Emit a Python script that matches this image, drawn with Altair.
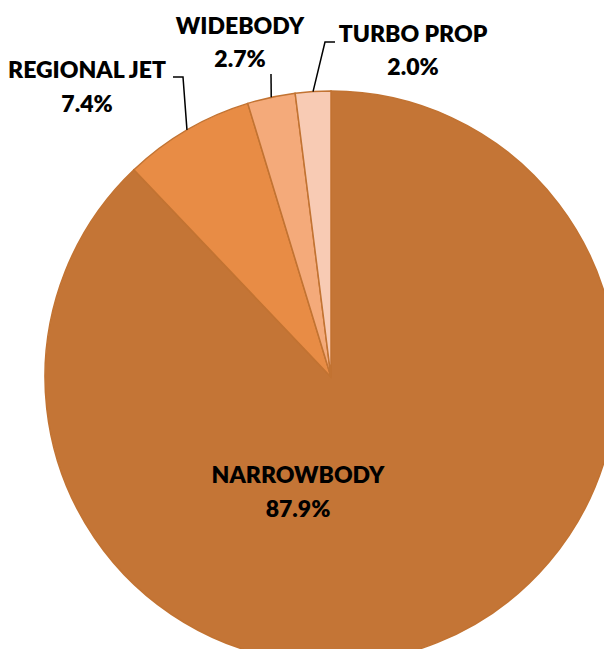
import math
import altair as alt
import pandas as pd

# ---- data ----
categories = ["NARROWBODY", "REGIONAL JET", "WIDEBODY", "TURBO PROP"]
shares = [87.9, 7.4, 2.7, 2.0]
pct_labels = ["87.9%", "7.4%", "2.7%", "2.0%"]
colors = ["#C47536", "#E88C45", "#F4AA7A", "#F8CBB4"]

# ---- layout (plot-area pixels) ----
CX, CY, R = 323, 369, 286
FONT = "Lato"
FS = 23
# label centre x, baseline of first line, baseline of second line
label_pos = {
    "NARROWBODY": (290, 475, 509),
    "REGIONAL JET": (79, 70, 104),
    "WIDEBODY": (232, 26, 59),
    "TURBO PROP": (405, 34, 67),
}
# leader elbows: list of points from label towards the pie
leader_elbow = {
    "REGIONAL JET": [(165, 69), (175, 69)],
    "WIDEBODY": [(263, 66)],
    "TURBO PROP": [(327, 34), (317, 34)],
}

pie_df = pd.DataFrame({
    "cat": categories,
    "value": shares,
    "idx": list(range(len(categories))),
})

# mid angles of slices for leader line anchors
total = sum(shares)
cum = 0.0
mid = {}
for c, v in zip(categories, shares):
    a = (cum + v / 2) / total * 2 * math.pi
    mid[c] = a
    cum += v

rows = []
for c, pts in leader_elbow.items():
    seq = 0
    for (px, py) in pts:
        rows.append({"cat": c, "seq": seq, "px": px, "py": py})
        seq += 1
    a = mid[c]
    rows.append({"cat": c, "seq": seq,
                 "px": CX + R * math.sin(a), "py": CY - R * math.cos(a)})
leader_df = pd.DataFrame(rows)

trows = []
for c, p in zip(categories, pct_labels):
    x, y1, y2 = label_pos[c]
    trows.append({"txt": c, "px": x, "py": y1})
    trows.append({"txt": p, "px": x, "py": y2})
text_df = pd.DataFrame(trows)

pie = alt.Chart(pie_df).mark_arc(
    radius=R, stroke="#C27332", strokeWidth=1.5
).encode(
    theta=alt.Theta("value:Q", stack=True),
    color=alt.Color("cat:N", scale=alt.Scale(domain=categories, range=colors), legend=None),
    order=alt.Order("idx:Q"),
    x=alt.value(CX),
    y=alt.value(CY),
)

leaders = alt.Chart(leader_df).mark_line(color="#000000", strokeWidth=1.5).encode(
    x=alt.X("px:Q", scale=None),
    y=alt.Y("py:Q", scale=None),
    detail="cat:N",
    order="seq:Q",
)

texts = alt.Chart(text_df).mark_text(
    font=FONT, fontSize=FS, fontWeight=800, color="#000000",
    align="center", baseline="alphabetic",
).encode(
    x=alt.X("px:Q", scale=None),
    y=alt.Y("py:Q", scale=None),
    text="txt:N",
)

chart = alt.layer(pie, leaders, texts).properties(
    width=596, height=641,
    autosize=alt.AutoSizeParams(type="none"),
    padding=0,
).configure_view(stroke=None)

chart.save("out.html", embed_options={"renderer": "svg", "actions": False})
